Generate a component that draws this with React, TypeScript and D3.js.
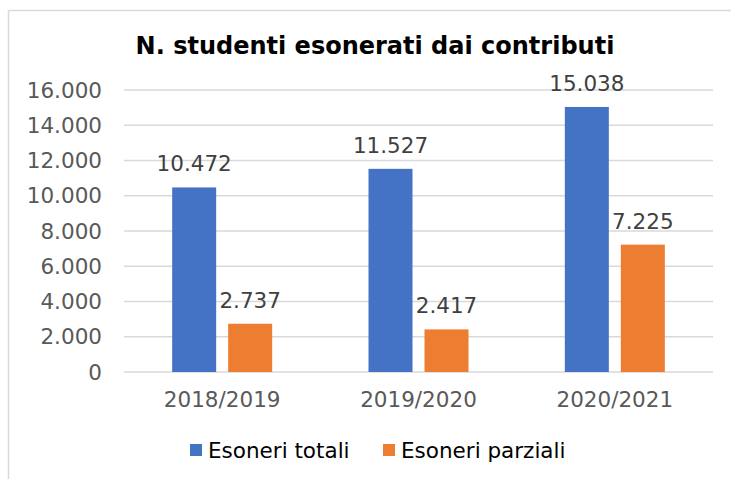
import * as d3 from "d3";

const categories = ["2018/2019", "2019/2020", "2020/2021"];
const seriesNames = ["Esoneri totali", "Esoneri parziali"];
const totali = [10472, 11527, 15038];
const parziali = [2737, 2417, 7225];
const yTicks = [0, 2000, 4000, 6000, 8000, 10000, 12000, 14000, 16000];

const colors = ["#4472C4", "#ED7D31"];
const W = 731;
const H = 479;
const font = "Verdana, 'DejaVu Sans', sans-serif";

const it = d3.formatLocale({
  decimal: ",",
  thousands: ".",
  grouping: [3],
  currency: ["", "€"],
});
const fmt = it.format(",d");

export default function App() {
  const series = [totali, parziali];

  const x = d3.scaleBand<string>().domain(categories).range([124, 713]).padding(0);
  const inner = d3
    .scaleBand<number>()
    .domain([0, 1])
    .range([-50, 50])
    .paddingInner(12 / 56)
    .paddingOuter(0);
  const y = d3.scaleLinear().domain([0, 16000]).range([372, 90]);

  const center = (c: string) => (x(c) ?? 0) + x.bandwidth() / 2;

  return (
    <svg
      width={W}
      height={H}
      style={{ position: "absolute", left: 0, top: 0, background: "#fff" }}
      fontFamily={font}
    >
      {/* chart frame (top + left edges visible) */}
      <line x1={8} x2={W} y1={10.5} y2={10.5} stroke="#D9D9D9" strokeWidth={1.5} />
      <line x1={8.5} x2={8.5} y1={10} y2={H} stroke="#D9D9D9" strokeWidth={1.5} />

      <text
        x={375}
        y={54}
        textAnchor="middle"
        fontSize={24}
        fontWeight="bold"
        fill="#000"
        fontFamily="'DejaVu Sans', Verdana, sans-serif"
      >
        N. studenti esonerati dai contributi
      </text>

      {/* gridlines + y ticks */}
      {yTicks.map((t) => (
        <g key={t}>
          <line x1={124} x2={713} y1={y(t)} y2={y(t)} stroke="#D9D9D9" strokeWidth={1.5} />
          <text x={102} y={y(t) + 7.5} textAnchor="end" fontSize={21.5} fill="#595959">
            {fmt(t)}
          </text>
        </g>
      ))}

      {/* bars */}
      {categories.map((c, i) =>
        series.map((s, j) => {
          const bx = center(c) + (inner(j) ?? 0);
          const top = y(s[i]);
          return (
            <g key={c + j}>
              <rect x={bx} y={top} width={inner.bandwidth()} height={y(0) - top} fill={colors[j]} />
              <text
                x={bx + inner.bandwidth() / 2}
                y={top - 16}
                textAnchor="middle"
                fontSize={21.5}
                fill="#404040"
              >
                {fmt(s[i])}
              </text>
            </g>
          );
        })
      )}

      {/* x labels */}
      {categories.map((c) => (
        <text key={c} x={center(c)} y={407} textAnchor="middle" fontSize={21.5} fill="#595959">
          {c}
        </text>
      ))}

      {/* legend */}
      {seriesNames.map((n, j) => {
        const lx = [190, 383][j];
        return (
          <g key={n}>
            <rect x={lx} y={444} width={12} height={12} fill={colors[j]} />
            <text x={lx + 18} y={458} fontSize={21.5} fill="#000">
              {n}
            </text>
          </g>
        );
      })}
    </svg>
  );
}
